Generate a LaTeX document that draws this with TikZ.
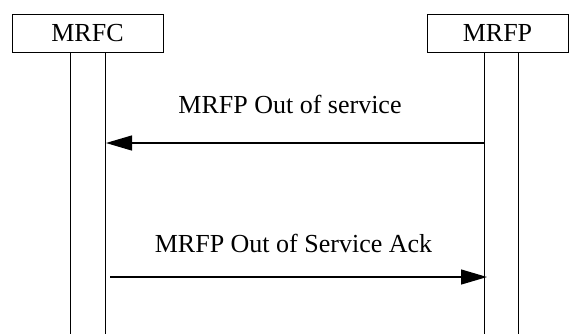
\documentclass[tikz,border=0pt]{standalone}
\usepackage{fontspec}
\setmainfont{Liberation Serif}
\usetikzlibrary{arrows.meta}
\begin{document}
\begin{tikzpicture}[x=1pt,y=-1pt,
  entity/.style={draw,line width=1pt,minimum height=38pt,inner sep=0pt,font=\fontsize{26}{30}\selectfont},
  life/.style={line width=1pt},
  msg/.style={line width=1.3pt,-{Triangle[length=26pt,width=15pt]}},
  lbl/.style={anchor=base,inner sep=0pt,font=\fontsize{26}{30}\selectfont}]
\useasboundingbox (0,0) rectangle (569,333);
\node[entity,minimum width=151pt] (mrfc) at (87.5,33) {MRFC};
\node[entity,minimum width=141pt] (mrfp) at (497.5,33) {MRFP};
\coordinate (c1t) at (70,52); \coordinate (c1b) at (70,334);
\coordinate (c2t) at (105,52); \coordinate (c2b) at (105,334);
\coordinate (p1t) at (484,52); \coordinate (p1b) at (484,334);
\coordinate (p2t) at (518,52); \coordinate (p2b) at (518,334);
\draw[life] (c1t) -- (c1b);
\draw[life] (c2t) -- (c2b);
\draw[life] (p1t) -- (p1b);
\draw[life] (p2t) -- (p2b);
\coordinate (m1s) at (484,143); \coordinate (m1e) at (106,143);
\coordinate (m2s) at (110,277); \coordinate (m2e) at (487,277);
\draw[msg] (m1s) -- (m1e);
\draw[msg] (m2s) -- (m2e);
\node[lbl] (l1) at (290,113) {MRFP Out of service};
\node[lbl] (l2) at (293.5,252) {MRFP Out of Service Ack};
\end{tikzpicture}
\end{document}
